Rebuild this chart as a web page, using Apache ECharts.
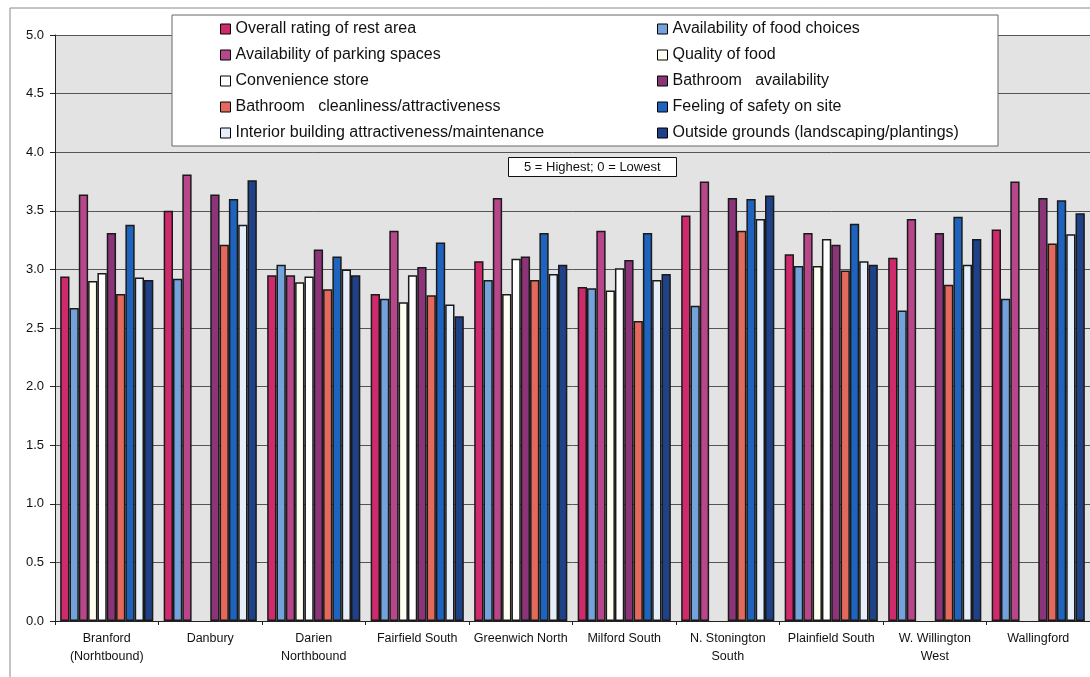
<!DOCTYPE html>
<html>
<head>
<meta charset="utf-8">
<script src="https://cdn.jsdelivr.net/npm/echarts@6/dist/echarts.min.js"></script>
<style>
  html, body { margin: 0; padding: 0; background: #fff; }
  #chart { width: 1090px; height: 677px; }
</style>
</head>
<body>
<div id="chart"></div>
<script>
// rest areas (x axis)
const categories = ['Branford\n(Norhtbound)', 'Danbury', 'Darien\nNorthbound', 'Fairfield South', 'Greenwich North',
    'Milford South', 'N. Stonington\nSouth', 'Plainfield South', 'W. Willington\nWest', 'Wallingford'];

// ratings per question, one value per rest area (null = no bar)
const overallRating   = [2.94, 3.50, 2.95, 2.79, 3.07, 2.85, 3.46, 3.13, 3.10, 3.34];
const foodChoices     = [2.67, 2.92, 3.04, 2.75, 2.91, 2.84, 2.69, 3.03, 2.65, 2.75];
const parkingSpaces   = [3.64, 3.81, 2.95, 3.33, 3.61, 3.33, 3.75, 3.31, 3.43, 3.75];
const qualityOfFood   = [2.90, null, 2.89, 2.72, 2.79, 2.82, null, 3.03, null, null];
const convenienceStore= [2.97, null, 2.94, 2.95, 3.09, 3.01, null, 3.26, null, null];
const bathAvail       = [3.31, 3.64, 3.17, 3.02, 3.11, 3.08, 3.61, 3.21, 3.31, 3.61];
const bathClean       = [2.79, 3.21, 2.83, 2.78, 2.91, 2.56, 3.33, 2.99, 2.87, 3.22];
const safety          = [3.38, 3.60, 3.11, 3.23, 3.31, 3.31, 3.60, 3.39, 3.45, 3.59];
const interiorBuilding= [2.93, 3.38, 3.00, 2.70, 2.96, 2.91, 3.43, 3.07, 3.04, 3.30];
const outsideGrounds  = [2.91, 3.76, 2.95, 2.60, 3.04, 2.96, 3.63, 3.04, 3.26, 3.48];

const yTicks = [0, 0.5, 1.0, 1.5, 2.0, 2.5, 3.0, 3.5, 4.0, 4.5, 5.0];

const seriesList = [
    { name: 'Overall rating of rest area', data: overallRating, color: '#cf2b6c' },
    { name: 'Availability of food choices', data: foodChoices, color: '#74a3dc' },
    { name: 'Availability of parking spaces', data: parkingSpaces, color: '#b8468a' },
    { name: 'Quality of food', data: qualityOfFood, color: '#fffff2' },
    { name: 'Convenience store', data: convenienceStore, color: '#ffffff' },
    { name: 'Bathroom   availability', data: bathAvail, color: '#8c3479' },
    { name: 'Bathroom   cleanliness/attractiveness', data: bathClean, color: '#e2695c' },
    { name: 'Feeling of safety on site', data: safety, color: '#1e64be' },
    { name: 'Interior building attractiveness/maintenance', data: interiorBuilding, color: '#e6eefa' },
    { name: 'Outside grounds (landscaping/plantings)', data: outsideGrounds, color: '#1f4187' }
];

const chart = echarts.init(document.getElementById('chart'));

const fontFamily = 'Arial, "Liberation Sans", sans-serif';
const legendText = { fontFamily: fontFamily, fontSize: 16, color: '#111' };

chart.setOption({
    animation: false,
    title: {
        text: '5 = Highest; 0 = Lowest',
        left: 508,
        top: 157,
        padding: [4, 16, 3, 16],
        borderColor: '#111',
        borderWidth: 1,
        backgroundColor: '#fff',
        textStyle: { fontFamily: fontFamily, fontSize: 13, fontWeight: 'normal', color: '#111' }
    },
    graphic: [
        // outer frame of the scanned figure
        { type: 'rect', shape: { x: 10, y: 8, width: 1100, height: 700 }, style: { fill: 'none', stroke: '#888', lineWidth: 1 }, z: 0 },
        // legend box
        { type: 'rect', shape: { x: 172, y: 15, width: 826, height: 131 }, style: { fill: '#fff', stroke: '#666', lineWidth: 1 }, z: 5 }
    ],
    legend: [
        {
            orient: 'vertical',
            left: 215,
            top: 16,
            itemGap: 10,
            itemWidth: 10,
            itemHeight: 10,
            icon: 'rect',
            itemStyle: { borderColor: '#000', borderWidth: 1 },
            textStyle: legendText,
            z: 6,
            data: seriesList.filter((s, i) => i % 2 === 0).map(s => s.name)
        },
        {
            orient: 'vertical',
            left: 652,
            top: 16,
            itemGap: 10,
            itemWidth: 10,
            itemHeight: 10,
            icon: 'rect',
            itemStyle: { borderColor: '#000', borderWidth: 1 },
            textStyle: legendText,
            z: 6,
            data: seriesList.filter((s, i) => i % 2 === 1).map(s => s.name)
        }
    ],
    grid: {
        left: 55,
        right: 0,
        top: 35,
        bottom: 56,
        show: true,
        backgroundColor: '#e3e3e3',
        borderWidth: 0
    },
    xAxis: {
        type: 'category',
        data: categories,
        axisLine: { lineStyle: { color: '#222', width: 1 } },
        axisTick: { show: true, length: 4, lineStyle: { color: '#222' } },
        axisLabel: {
            interval: 0,
            margin: 9,
            fontFamily: fontFamily,
            fontSize: 12.5,
            lineHeight: 18,
            color: '#111'
        }
    },
    yAxis: {
        type: 'value',
        min: yTicks[0],
        max: yTicks[yTicks.length - 1],
        interval: 0.5,
        axisLine: { show: true, lineStyle: { color: '#222' } },
        axisTick: { show: true, inside: false, length: 5, lineStyle: { color: '#222' } },
        splitLine: { show: true, lineStyle: { color: '#555', width: 1 } },
        axisLabel: {
            margin: 11,
            fontFamily: fontFamily,
            fontSize: 13,
            color: '#111',
            formatter: v => v.toFixed(1)
        }
    },
    series: seriesList.map(s => ({
        name: s.name,
        type: 'bar',
        data: s.data,
        barGap: '0%',
        barCategoryGap: '10%',
        itemStyle: { color: s.color, borderColor: '#1a1a1a', borderWidth: 1.5 }
    }))
});
</script>
</body>
</html>
